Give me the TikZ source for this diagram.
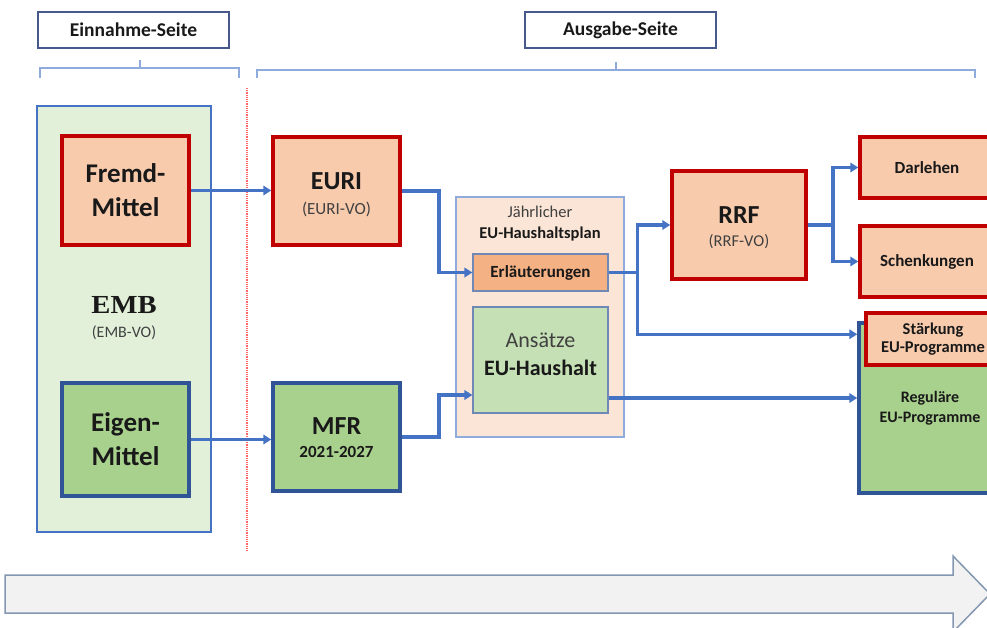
\documentclass[tikz,border=0pt]{standalone}
\usepackage{fontspec}
\setmainfont{Carlito}
\newfontfamily\embfont{Liberation Serif}[FakeStretch=1.1]
\usetikzlibrary{arrows.meta}

\definecolor{peach}{HTML}{F8CBAD}
\definecolor{darkpeach}{HTML}{F4B183}
\definecolor{paleorange}{HTML}{FBE5D6}
\definecolor{redline}{HTML}{C00000}
\definecolor{midgreen}{HTML}{A9D18E}
\definecolor{lightgreen}{HTML}{C5E0B4}
\definecolor{palegreen}{HTML}{E2F0D9}
\definecolor{darkblue}{HTML}{2F5597}
\definecolor{flowblue}{HTML}{4472C4}
\definecolor{paleblue}{HTML}{8FAADC}
\definecolor{steelblue}{HTML}{7088B5}
\definecolor{headline}{HTML}{46598A}
\definecolor{textgray}{HTML}{404040}
\definecolor{arrowfill}{HTML}{F2F2F2}
\definecolor{arrowline}{HTML}{8497B0}

\begin{document}
\begin{tikzpicture}[x=1pt,y=-1pt,
    every node/.style={inner sep=0pt,align=center,text=black!90},
    header/.style={draw=headline,line width=1.5pt,minimum width=191pt,minimum height=36pt,
        font=\fontsize{19.5}{22}\selectfont\bfseries},
    fund/.style={line width=3.5pt,minimum width=127pt,font=\fontsize{27}{34}\selectfont\bfseries},
    redfund/.style={fund,draw=redline,fill=peach},
    bluefund/.style={fund,draw=darkblue,fill=midgreen},
    thinbox/.style={draw=steelblue,line width=1.2pt,minimum width=135pt},
    flow/.style={draw=flowblue,line width=3.5pt,-{Triangle[length=8pt,width=9.5pt]}},
    brace/.style={draw=paleblue,line width=1.2pt}]

\pgfmathsetmacro{\splitdx}{29}

\useasboundingbox (0,0) rectangle (987,628);
\clip (0,0) rectangle (987,628);

% Headings:
\node[header] (einnahme) at (133.5,30) {Einnahme-Seite};
\node[header] (ausgabe) at (620.5,30) {Ausgabe-Seite};
\draw[brace] (40,78) -- (40,68) -- (239,68) -- (239,78) (140,68) -- (140,60);
\draw[brace] (257,78) -- (257,70) -- (975,70) -- (975,78) (616,70) -- (616,62);

% Border between both sides:
\draw[red!60,densely dotted,line width=1.2pt] (247,88) -- (247,552);

% Income side:
\node[draw=flowblue,fill=palegreen,line width=1.5pt,minimum width=174pt,minimum height=426pt] (emb) at (124,319) {};
\node[font=\fontsize{16}{24}\selectfont] (embtitle) at (124,318)
    {{\embfont\bfseries\fontsize{26}{26}\selectfont EMB}\\{\color{textgray}(EMB-VO)}};
\node[redfund,minimum height=109pt] (fremd) at (125.5,190.5) {Fremd-\\Mittel};
\node[bluefund,minimum height=113pt] (eigen) at (125.5,439.5) {Eigen-\\Mittel};

% Spending side:
\node[redfund,minimum height=108pt,font=\fontsize{17}{25}\selectfont,text height=49pt] (euri) at (336.5,191)
    {{\fontsize{26}{26}\selectfont\bfseries EURI}\\{\color{textgray}(EURI-VO)}};
\node[bluefund,minimum height=108pt,font=\fontsize{17}{23}\selectfont\bfseries,text height=42pt] (mfr) at (336.5,437)
    {{\fontsize{26}{26}\selectfont MFR}\\2021-2027};

\node[draw=paleblue,fill=paleorange,line width=1.2pt,minimum width=168pt,minimum height=240pt] (plan) at (540,317) {};
\node[font=\fontsize{16.5}{21}\selectfont] (plantitle) at (540,224)
    {{\color{textgray}Jährlicher}\\\textbf{EU-Haushaltsplan}};
\node[thinbox,fill=darkpeach,minimum height=37pt,font=\fontsize{17}{20}\selectfont\bfseries] (erl) at (540.5,272.5) {Erläuterungen};
\node[thinbox,fill=lightgreen,minimum height=106pt,font=\fontsize{22}{28}\selectfont,text depth=11pt] (ans) at (540.5,360)
    {{\color{black!75}Ansätze}\\\textbf{EU-Haushalt}};

\node[redfund,minimum width=134pt,minimum height=108pt,font=\fontsize{16.5}{23}\selectfont,text height=46pt] (rrf) at (739,225)
    {{\fontsize{26}{26}\selectfont\bfseries RRF}\\{\color{textgray}(RRF-VO)}};
\node[redfund,minimum width=134pt,minimum height=61pt,font=\fontsize{17}{20}\selectfont\bfseries] (darl) at (927,167.5) {Darlehen};
\node[redfund,minimum width=134pt,minimum height=71pt,font=\fontsize{17}{20}\selectfont\bfseries] (schenk) at (927,261.5) {Schenkungen};
\node[bluefund,minimum width=142pt,minimum height=170pt,font=\fontsize{16}{20}\selectfont\bfseries] (reg) at (930,408) {Reguläre\\EU-Programme};
\node[redfund,minimum width=134pt,minimum height=52pt,font=\fontsize{16.5}{18}\selectfont\bfseries] (stark) at (933,339) {Stärkung\\EU-Programme};

% Flows:
\draw[flow] (fremd.east) -- (fremd.east -| euri.west);
\draw[flow] (eigen.east) -- (eigen.east -| mfr.west);
\draw[flow] (euri.east) -- ++(37,0) |- (erl.west);
\draw[flow] (mfr.east) -- ++(37,0) |- ([yshift=-35pt]ans.west);
\draw[flow] (erl.east) -- ++(\splitdx,0) |- (rrf.west);
\draw[flow] (erl.east) -- ++(\splitdx,0) |- ([yshift=-13pt]reg.north west);
\draw[flow] ([yshift=-38pt]ans.east) -- ([yshift=-38pt]ans.east -| reg.west);
\draw[flow] (rrf.east) -- ++(25,0) |- (darl.west);
\draw[flow] (rrf.east) -- ++(25,0) |- (schenk.west);

% Time arrow at the bottom:
\draw[draw=arrowline,fill=arrowfill,line width=1.5pt] (5,575) -- (953,575) -- (953,556) -- (990,594)
    -- (953,632) -- (953,613) -- (5,613) -- cycle;

\end{tikzpicture}
\end{document}
